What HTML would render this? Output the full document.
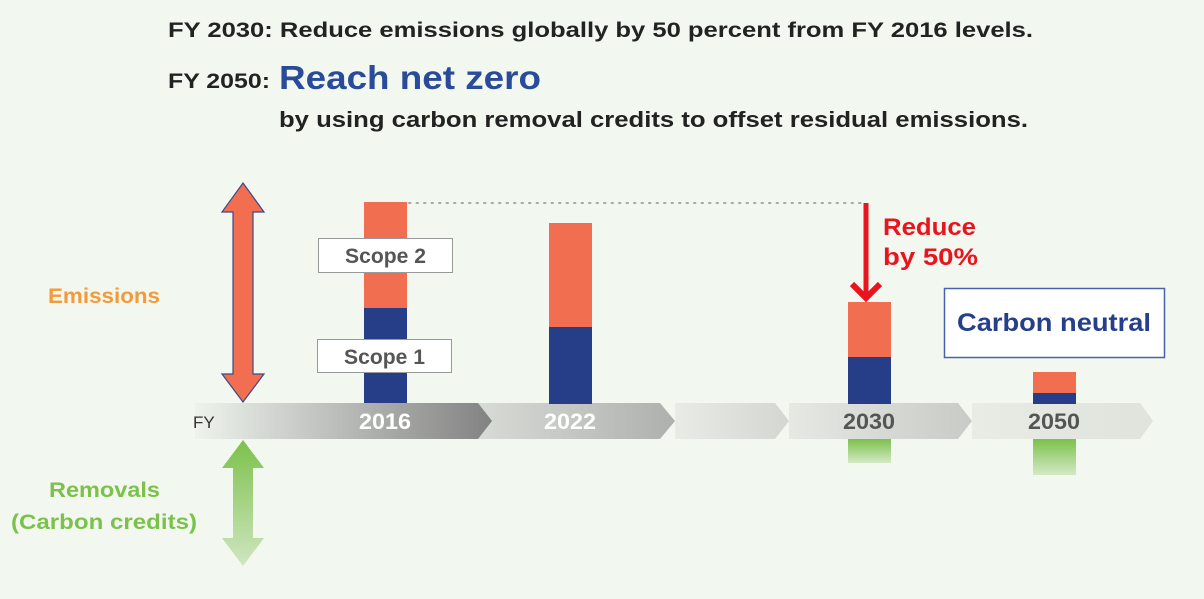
<!DOCTYPE html>
<html><head><meta charset="utf-8"><style>html,body{margin:0;padding:0;background:#f2f8ef}svg{display:block}text{font-family:"Liberation Sans",sans-serif;font-weight:bold}</style></head><body>
<svg width="1204" height="599" viewBox="0 0 1204 599" xmlns="http://www.w3.org/2000/svg">
<defs>
<linearGradient id="s1" x1="195" x2="492" gradientUnits="userSpaceOnUse"><stop offset="0" stop-color="#eef3ec"/><stop offset="0.4" stop-color="#c3c6c2"/><stop offset="1" stop-color="#828282"/></linearGradient>
<linearGradient id="s2" x1="478" x2="675" gradientUnits="userSpaceOnUse"><stop offset="0" stop-color="#d8dbd6"/><stop offset="1" stop-color="#aeb0ad"/></linearGradient>
<linearGradient id="s3" x1="675" x2="789" gradientUnits="userSpaceOnUse"><stop offset="0" stop-color="#e8ebe6"/><stop offset="1" stop-color="#d3d6d1"/></linearGradient>
<linearGradient id="s4" x1="789" x2="972" gradientUnits="userSpaceOnUse"><stop offset="0" stop-color="#e6e9e3"/><stop offset="1" stop-color="#c8cbc6"/></linearGradient>
<linearGradient id="s5" x1="972" x2="1153" gradientUnits="userSpaceOnUse"><stop offset="0" stop-color="#e8ece5"/><stop offset="1" stop-color="#dfe3dc"/></linearGradient>
<linearGradient id="g" x1="0" y1="0" x2="0" y2="1"><stop offset="0" stop-color="#7cc14b"/><stop offset="1" stop-color="#d3e9c6"/></linearGradient>
<linearGradient id="ga" x1="0" y1="440" x2="0" y2="566" gradientUnits="userSpaceOnUse"><stop offset="0" stop-color="#7cc14b"/><stop offset="1" stop-color="#cfe6c0"/></linearGradient>
</defs>
<text x="168" y="37" font-size="21" fill="#222" textLength="865" lengthAdjust="spacingAndGlyphs">FY 2030: Reduce emissions globally by 50 percent from FY 2016 levels.</text>
<text x="168" y="88" font-size="21" fill="#222" textLength="102" lengthAdjust="spacingAndGlyphs">FY 2050:</text>
<text x="279" y="89" font-size="33" fill="#2a4a9a" textLength="262" lengthAdjust="spacingAndGlyphs">Reach net zero</text>
<text x="279" y="127" font-size="22" fill="#222" textLength="749" lengthAdjust="spacingAndGlyphs">by using carbon removal credits to offset residual emissions.</text>

<text x="48" y="303" font-size="21" fill="#f39a3a" textLength="112" lengthAdjust="spacingAndGlyphs">Emissions</text>
<text x="49" y="497" font-size="21" fill="#7cc14b" textLength="111" lengthAdjust="spacingAndGlyphs">Removals</text>
<text x="11" y="529" font-size="21" fill="#7cc14b" textLength="186" lengthAdjust="spacingAndGlyphs">(Carbon credits)</text>

<polygon points="243,183 264,212 253,212 253,374 264,374 243,402 222,374 233,374 233,212 222,212" fill="#f26e50" stroke="#3a4a8a" stroke-width="1.2"/>
<polygon points="243,440 264,468 253,468 253,538 264,538 243,566 222,538 233,538 233,468 222,468" fill="url(#ga)"/>

<polygon points="972,403 1140,403 1153,421 1140,439 972,439" fill="url(#s5)"/>
<polygon points="789,403 958,403 972,421 958,439 789,439" fill="url(#s4)"/>
<polygon points="675,403 775,403 789,421 775,439 675,439" fill="url(#s3)"/>
<polygon points="478,403 660,403 675,421 660,439 478,439" fill="url(#s2)"/>
<polygon points="195,403 478,403 492,421 478,439 195,439" fill="url(#s1)"/>
<text x="193" y="428" font-size="17" style="font-weight:normal" fill="#333">FY</text>
<text x="359" y="429" font-size="22" fill="#fff" textLength="52" lengthAdjust="spacingAndGlyphs">2016</text>
<text x="544" y="429" font-size="22" fill="#fff" textLength="52" lengthAdjust="spacingAndGlyphs">2022</text>
<text x="843" y="429" font-size="22" fill="#555" textLength="52" lengthAdjust="spacingAndGlyphs">2030</text>
<text x="1028" y="429" font-size="22" fill="#555" textLength="52" lengthAdjust="spacingAndGlyphs">2050</text>

<rect x="364" y="202" width="43" height="106" fill="#f26e50"/><rect x="364" y="308" width="43" height="95" fill="#253e87"/>
<rect x="549" y="223" width="43" height="104" fill="#f26e50"/><rect x="549" y="327" width="43" height="77" fill="#253e87"/>
<rect x="848" y="302" width="43" height="55" fill="#f26e50"/><rect x="848" y="357" width="43" height="47" fill="#253e87"/>
<rect x="1033" y="372" width="43" height="21" fill="#f26e50"/><rect x="1033" y="393" width="43" height="11" fill="#253e87"/>
<rect x="848" y="439" width="43" height="24" fill="url(#g)"/>
<rect x="1033" y="439" width="43" height="36" fill="url(#g)"/>

<line x1="409" y1="203" x2="862" y2="203" stroke="#a8aaa8" stroke-width="2" stroke-dasharray="1.5 6" stroke-linecap="round"/>

<rect x="318.5" y="238.5" width="134" height="34" fill="#fff" stroke="#999" stroke-width="1"/>
<text x="345" y="263" font-size="21" fill="#555" textLength="81" lengthAdjust="spacingAndGlyphs">Scope 2</text>
<rect x="317.5" y="339.5" width="134" height="33" fill="#fff" stroke="#999" stroke-width="1"/>
<text x="344" y="364" font-size="21" fill="#555" textLength="81" lengthAdjust="spacingAndGlyphs">Scope 1</text>

<line x1="866" y1="203" x2="866" y2="296" stroke="#e8141e" stroke-width="5"/>
<polyline points="852,284 866,298 880,284" fill="none" stroke="#e8141e" stroke-width="6"/>
<text x="883" y="235" font-size="24" fill="#e8141e" textLength="93" lengthAdjust="spacingAndGlyphs">Reduce</text>
<text x="883" y="265" font-size="24" fill="#e8141e" textLength="95" lengthAdjust="spacingAndGlyphs">by 50%</text>

<rect x="944.5" y="288.5" width="220" height="69" fill="#fff" stroke="#4a62a8" stroke-width="1.5"/>
<text x="957" y="331" font-size="25" fill="#253f8a" textLength="194" lengthAdjust="spacingAndGlyphs">Carbon neutral</text>
</svg>
</body></html>
